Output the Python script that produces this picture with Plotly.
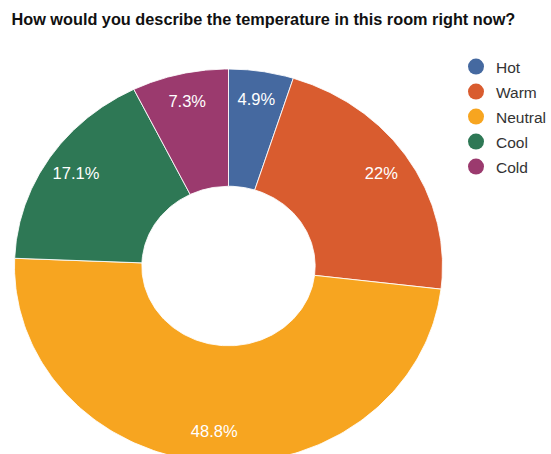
import numpy as np
import plotly.graph_objects as go

categories = ["Hot", "Warm", "Neutral", "Cool", "Cold"]
values = [4.9, 22, 48.8, 17.1, 7.3]
labels = ["4.9%", "22%", "48.8%", "17.1%", "7.3%"]
colors = ["#4569a0", "#d95c2f", "#f7a520", "#2e7855", "#9b3a6e"]

W, H = 551, 454
cx, cy, rx, ry = 228.5, 266.0, 214.0, 197.0
hole = 0.405
label_r = 0.85
FONT = "Liberation Sans, Arial, Helvetica"

fig = go.Figure()
total = sum(values)
start = 0.0
for cat, v, lab, col in zip(categories, values, labels, colors):
    a0 = start / total * 2 * np.pi
    a1 = (start + v) / total * 2 * np.pi
    t = np.linspace(a0, a1, 160)
    xo, yo = np.sin(t), np.cos(t)
    xi, yi = hole * np.sin(t[::-1]), hole * np.cos(t[::-1])
    xs = np.concatenate([xo, xi, xo[:1]])
    ys = np.concatenate([yo, yi, yo[:1]])
    fig.add_trace(go.Scatter(x=xs, y=ys, fill="toself", fillcolor=col, mode="lines",
                             line=dict(color="rgba(255,255,255,0.85)", width=1),
                             showlegend=False, hoverinfo="skip"))
    am = (a0 + a1) / 2
    fig.add_trace(go.Scatter(x=[label_r * np.sin(am)], y=[label_r * np.cos(am)], mode="text",
                             text=[lab], textposition="middle center",
                             textfont=dict(family=FONT, size=16.5, color="white"),
                             showlegend=False, hoverinfo="skip"))
    start += v

legend_layouts = {}
for i, (cat, col) in enumerate(zip(categories, colors)):
    key = "legend" if i == 0 else f"legend{i + 1}"
    fig.add_trace(go.Scatter(x=[None], y=[None], mode="markers", name=cat,
                             legend=key,
                             marker=dict(symbol="circle", size=16, color=col)))
    legend_layouts[key] = dict(
        x=456 / W, y=1 - (67 + 25 * i) / H, xanchor="left", yanchor="middle",
        font=dict(family=FONT, size=15.5, color="#333333"),
        bgcolor="rgba(0,0,0,0)", itemwidth=30,
    )

fig.update_xaxes(range=[-cx / rx, (W - cx) / rx], visible=False, fixedrange=True)
fig.update_yaxes(range=[-(H - cy) / ry, cy / ry], visible=False, fixedrange=True)

fig.update_layout(
    width=W, height=H,
    margin=dict(l=0, r=0, t=0, b=0, autoexpand=False),
    paper_bgcolor="white", plot_bgcolor="white",
    title=dict(text="<b>How would you describe the temperature in this room right now?</b>",
               x=0.478, xanchor="center", xref="paper",
               y=1 - 19 / H, yanchor="middle", yref="container",
               font=dict(family=FONT, size=16.3, color="#111111")),
    showlegend=True,
    **legend_layouts,
)

fig.write_html("out.html")
